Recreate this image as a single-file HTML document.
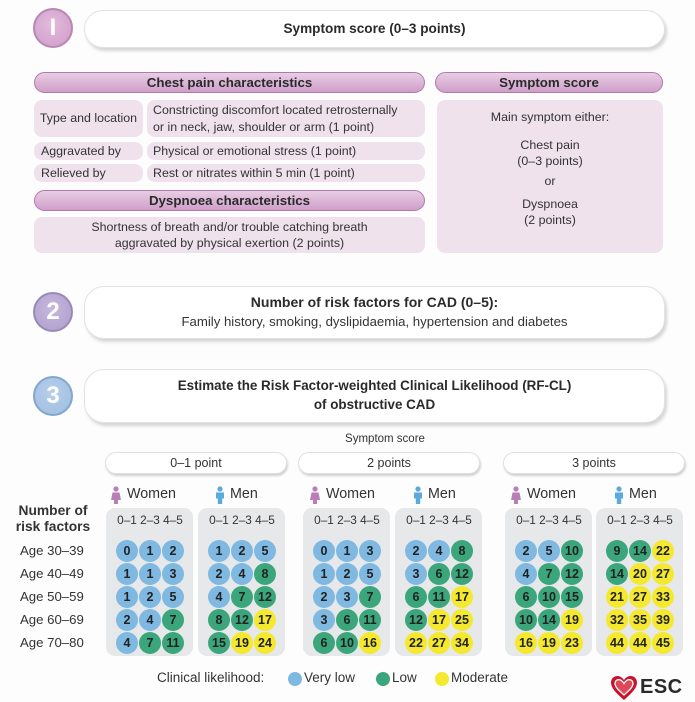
<!DOCTYPE html>
<html><head><meta charset="utf-8">
<style>
*{margin:0;padding:0;box-sizing:border-box}
body{width:695px;height:702px;background:#fdfdfd;position:relative;overflow:hidden;font-family:"Liberation Sans",sans-serif;color:#2a2a2a}
.a{position:absolute}
.num{position:absolute;width:40px;height:40px;border-radius:50%;color:#fff;font-weight:bold;font-size:24px;line-height:36px;text-align:center}
.hbox{position:absolute;background:#fff;border:1px solid #e2e2e2;border-radius:20px;box-shadow:2px 3px 3px rgba(0,0,0,0.16);text-align:center;white-space:nowrap}
.bar{position:absolute;height:21px;border-radius:11px;background:linear-gradient(#e8cde4,#cf9fc9);border:1px solid #b27aa9;font-weight:bold;font-size:13.3px;line-height:19px;text-align:center;color:#2a2a2a}
.lb{position:absolute;background:#efe2ed;border-radius:8px;font-size:12.4px;color:#333;white-space:nowrap}
.pill{position:absolute;height:22px;background:#fff;border:1px solid #e0e0e0;border-radius:11px;box-shadow:1px 2px 2px rgba(0,0,0,0.18);font-size:12.5px;line-height:20px;text-align:center;color:#333}
.panel{position:absolute;top:508px;width:87px;height:148px;background:#e7e8ea;border-radius:9px}
.hd{position:absolute;left:9.5px;top:5px;display:grid;grid-template-columns:23px 23px 23px;font-size:11.8px;text-align:center;color:#333;white-space:nowrap}
.g{position:absolute;left:9.5px;top:31.5px;display:grid;grid-template-columns:23px 23px 23px;grid-auto-rows:23px}
.g span{display:block;width:22px;height:22px;margin:0.5px;border-radius:50%;font-size:12.5px;line-height:22px;text-align:center;color:#222;font-weight:bold}
.B{background:#7fb9e2}.G{background:#3ba67c}.Y{background:#f4e92e}
.sex{position:absolute;top:486px;font-size:14.3px;color:#333;white-space:nowrap}
.age{position:absolute;left:20px;font-size:13.2px;color:#333}
.lg{position:absolute;top:670px;font-size:13.5px;color:#333;white-space:nowrap}
</style></head><body>

<!-- Section 1 -->
<div class="num" style="left:33px;top:8px;background:radial-gradient(circle at 45% 40%,#e2bbdd,#cf9cc8);border:2px solid #b987b1">I</div>
<div class="hbox" style="left:84px;top:10px;width:581px;height:38px;font-weight:bold;font-size:13.6px;line-height:36px">Symptom score (0–3 points)</div>

<div class="bar" style="left:34px;top:72px;width:391px">Chest pain characteristics</div>
<div class="bar" style="left:435px;top:72px;width:228px">Symptom score</div>

<div class="lb" style="left:34px;top:100px;width:109px;height:37px;line-height:37px;text-align:center">Type and location</div>
<div class="lb" style="left:147px;top:100px;width:278px;height:37px;padding:2px 0 0 6px;line-height:17px">Constricting discomfort located retrosternally<br>or in neck, jaw, shoulder or arm (1 point)</div>
<div class="lb" style="left:34px;top:142px;width:109px;height:18px;line-height:18px;padding-left:7px">Aggravated by</div>
<div class="lb" style="left:147px;top:142px;width:278px;height:18px;line-height:18px;padding-left:6px">Physical or emotional stress (1 point)</div>
<div class="lb" style="left:34px;top:164px;width:109px;height:18px;line-height:18px;padding-left:7px">Relieved by</div>
<div class="lb" style="left:147px;top:164px;width:278px;height:18px;line-height:18px;padding-left:6px">Rest or nitrates within 5 min (1 point)</div>

<div class="bar" style="left:34px;top:190px;width:391px">Dyspnoea characteristics</div>
<div class="lb" style="left:34px;top:217px;width:391px;height:36px;text-align:center;padding-top:2px;line-height:16px">Shortness of breath and/or trouble catching breath<br>aggravated by physical exertion (2 points)</div>

<div class="lb" style="left:437px;top:100px;width:226px;height:153px;text-align:center;background:#efe2ed">
 <div class="a" style="left:0;width:226px;top:10px">Main symptom either:</div>
 <div class="a" style="left:0;width:226px;top:37px;line-height:16px">Chest pain<br>(0–3 points)</div>
 <div class="a" style="left:0;width:226px;top:74px">or</div>
 <div class="a" style="left:0;width:226px;top:96px;line-height:16px">Dyspnoea<br>(2 points)</div>
</div>

<!-- Section 2 -->
<div class="num" style="left:33px;top:292px;background:radial-gradient(circle at 45% 40%,#c6b8dd,#ad9ccb);border:2px solid #9a89bb">2</div>
<div class="hbox" style="left:84px;top:286px;width:581px;height:53px">
 <div style="font-weight:bold;font-size:14px;margin-top:7px">Number of risk factors for CAD (0–5):</div>
 <div style="font-size:13.2px;margin-top:4px;color:#333">Family history, smoking, dyslipidaemia, hypertension and diabetes</div>
</div>

<!-- Section 3 -->
<div class="num" style="left:33px;top:376px;background:radial-gradient(circle at 45% 40%,#b7cfea,#9dbde0);border:2px solid #84a6cd">3</div>
<div class="hbox" style="left:84px;top:369px;width:581px;height:54px">
 <div style="font-weight:bold;font-size:13.4px;margin-top:8px">Estimate the Risk Factor-weighted Clinical Likelihood (RF-CL)</div>
 <div style="font-weight:bold;font-size:13.4px;margin-top:4px">of obstructive CAD</div>
</div>

<div class="a" style="left:285px;width:200px;top:433px;text-align:center;font-size:11.5px;color:#333">Symptom score</div>

<div class="pill" style="left:105px;top:452px;width:182px">0–1 point</div>
<div class="pill" style="left:298px;top:452px;width:182px">2 points</div>
<div class="pill" style="left:503px;top:452px;width:182px">3 points</div>

<!-- icons + labels -->
<svg class="a" style="left:0;top:0" width="695" height="702">
 <defs>
  <g id="w"><circle cx="0" cy="-6" r="2.6" fill="#b97db7"/><path d="M-3.5,-2.5 L3.5,-2.5 L5,5 L2,5 L2,9 L-2,9 L-2,5 L-5,5 Z" fill="#b97db7"/></g>
  <g id="m"><circle cx="0" cy="-6" r="2.6" fill="#5aaade"/><path d="M-4,-2.5 L4,-2.5 L4,3.5 L2.2,3.5 L2.2,9 L-2.2,9 L-2.2,3.5 L-4,3.5 Z" fill="#5aaade"/></g>
 </defs>
 <use href="#w" x="116" y="495"/><use href="#m" x="220" y="495"/>
 <use href="#w" x="315" y="495"/><use href="#m" x="418" y="495"/>
 <use href="#w" x="516" y="495"/><use href="#m" x="619" y="495"/>
</svg>
<div class="sex" style="left:127px">Women</div><div class="sex" style="left:230px">Men</div>
<div class="sex" style="left:326px">Women</div><div class="sex" style="left:428px">Men</div>
<div class="sex" style="left:527px">Women</div><div class="sex" style="left:629px">Men</div>

<div class="a" style="left:12px;top:503px;width:82px;text-align:center;font-weight:bold;font-size:13.8px;line-height:16px;color:#333;white-space:nowrap">Number of<br>risk factors</div>
<div class="age" style="top:543px">Age 30–39</div>
<div class="age" style="top:566px">Age 40–49</div>
<div class="age" style="top:589px">Age 50–59</div>
<div class="age" style="top:612px">Age 60–69</div>
<div class="age" style="top:635px">Age 70–80</div>

<!-- G1 women -->
<div class="panel" style="left:106px"><div class="hd"><div>0–1</div><div>2–3</div><div>4–5</div></div>
<div class="g"><span class="B">0</span><span class="B">1</span><span class="B">2</span><span class="B">1</span><span class="B">1</span><span class="B">3</span><span class="B">1</span><span class="B">2</span><span class="B">5</span><span class="B">2</span><span class="B">4</span><span class="G">7</span><span class="B">4</span><span class="G">7</span><span class="G">11</span></div></div>
<!-- G1 men -->
<div class="panel" style="left:198px"><div class="hd"><div>0–1</div><div>2–3</div><div>4–5</div></div>
<div class="g"><span class="B">1</span><span class="B">2</span><span class="B">5</span><span class="B">2</span><span class="B">4</span><span class="G">8</span><span class="B">4</span><span class="G">7</span><span class="G">12</span><span class="G">8</span><span class="G">12</span><span class="Y">17</span><span class="G">15</span><span class="Y">19</span><span class="Y">24</span></div></div>
<!-- G2 women -->
<div class="panel" style="left:303px"><div class="hd"><div>0–1</div><div>2–3</div><div>4–5</div></div>
<div class="g"><span class="B">0</span><span class="B">1</span><span class="B">3</span><span class="B">1</span><span class="B">2</span><span class="B">5</span><span class="B">2</span><span class="B">3</span><span class="G">7</span><span class="B">3</span><span class="G">6</span><span class="G">11</span><span class="G">6</span><span class="G">10</span><span class="Y">16</span></div></div>
<!-- G2 men -->
<div class="panel" style="left:395px"><div class="hd"><div>0–1</div><div>2–3</div><div>4–5</div></div>
<div class="g"><span class="B">2</span><span class="B">4</span><span class="G">8</span><span class="B">3</span><span class="G">6</span><span class="G">12</span><span class="G">6</span><span class="G">11</span><span class="Y">17</span><span class="G">12</span><span class="Y">17</span><span class="Y">25</span><span class="Y">22</span><span class="Y">27</span><span class="Y">34</span></div></div>
<!-- G3 women -->
<div class="panel" style="left:505px"><div class="hd"><div>0–1</div><div>2–3</div><div>4–5</div></div>
<div class="g"><span class="B">2</span><span class="B">5</span><span class="G">10</span><span class="B">4</span><span class="G">7</span><span class="G">12</span><span class="G">6</span><span class="G">10</span><span class="G">15</span><span class="G">10</span><span class="G">14</span><span class="Y">19</span><span class="Y">16</span><span class="Y">19</span><span class="Y">23</span></div></div>
<!-- G3 men -->
<div class="panel" style="left:596px"><div class="hd"><div>0–1</div><div>2–3</div><div>4–5</div></div>
<div class="g"><span class="G">9</span><span class="G">14</span><span class="Y">22</span><span class="G">14</span><span class="Y">20</span><span class="Y">27</span><span class="Y">21</span><span class="Y">27</span><span class="Y">33</span><span class="Y">32</span><span class="Y">35</span><span class="Y">39</span><span class="Y">44</span><span class="Y">44</span><span class="Y">45</span></div></div>

<!-- Legend -->
<div class="lg" style="left:157px">Clinical likelihood:</div>
<div class="a B" style="left:288px;top:672px;width:14px;height:14px;border-radius:50%"></div>
<div class="lg" style="left:304px">Very low</div>
<div class="a G" style="left:376px;top:672px;width:14px;height:14px;border-radius:50%"></div>
<div class="lg" style="left:392px">Low</div>
<div class="a Y" style="left:435px;top:672px;width:14px;height:14px;border-radius:50%"></div>
<div class="lg" style="left:451px">Moderate</div>

<!-- ESC logo -->
<svg class="a" style="left:610px;top:675px" width="28" height="26" viewBox="0 0 28 26">
 <path d="M14,25 C6,18 1,13 1,7.5 C1,3.5 4,1 7.5,1 C10.5,1 12.5,3 14,5 C15.5,3 17.5,1 20.5,1 C24,1 27,3.5 27,7.5 C27,13 22,18 14,25 Z" fill="#c8142c"/>
 <path d="M14,20 C8.5,15 5,12 5,8.5 C5,6 6.8,4.6 8.8,4.6 C11,4.6 12.8,6.5 14,8.5 C15.2,6.5 17,4.6 19.2,4.6 C21.2,4.6 23,6 23,8.5 C23,12 19.5,15 14,20 Z" fill="#e0485a" stroke="#fff" stroke-width="1.3"/>
</svg>
<div class="a" style="left:640px;top:676px;font-size:20px;font-weight:bold;color:#2a2a2a;letter-spacing:0.5px">ESC</div>

</body></html>
